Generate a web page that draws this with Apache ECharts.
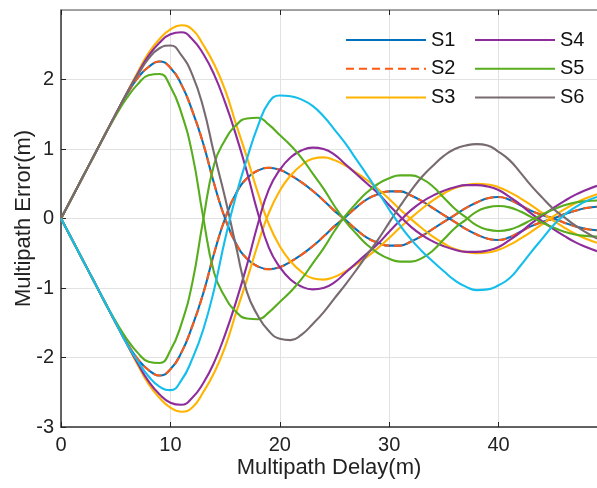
<!DOCTYPE html>
<html>
<head>
<meta charset="utf-8">
<script src="https://cdn.jsdelivr.net/npm/echarts@6/dist/echarts.min.js"></script>
<style>html,body{margin:0;padding:0;background:#fff;}#c{width:597px;height:488px;}</style>
</head>
<body>
<div id="c"></div>
<script>
// Multipath delay (m)
const xs = [0,1,2,3,4,5,6,7,8,9,10,11,12,13,14,15,16,17,18,19,20,21,22,23,24,25,26,27,28,29,30,31,32,33,34,35,36,37,38,39,40,41,42,43,44,45,46,47,48,49];

// Upper (positive-first) envelopes
const s1Up = [0,0.3,0.6,0.9,1.2,1.5,1.78,2.02,2.18,2.26,2.17,1.93,1.55,1.08,0.5,0.0,-0.36,-0.58,-0.69,-0.73,-0.7,-0.62,-0.52,-0.4,-0.26,-0.11,0.02,0.16,0.28,0.35,0.39,0.39,0.33,0.25,0.15,0.05,-0.05,-0.15,-0.23,-0.29,-0.31,-0.27,-0.19,-0.11,-0.05,0.0,0.06,0.11,0.15,0.17];
const s2Up = [0,0.3,0.6,0.9,1.2,1.5,1.78,2.02,2.18,2.26,2.17,1.93,1.55,1.08,0.5,0.0,-0.36,-0.58,-0.69,-0.73,-0.7,-0.62,-0.52,-0.4,-0.26,-0.11,0.02,0.16,0.28,0.35,0.39,0.39,0.33,0.25,0.15,0.05,-0.05,-0.15,-0.23,-0.29,-0.31,-0.27,-0.19,-0.11,-0.05,0.0,0.06,0.11,0.15,0.17];
const s3Up = [0,0.3,0.6,0.9,1.2,1.5,1.8,2.1,2.38,2.58,2.72,2.78,2.72,2.5,2.22,1.85,1.36,0.88,0.37,-0.08,-0.4,-0.62,-0.77,-0.86,-0.88,-0.84,-0.76,-0.66,-0.55,-0.42,-0.28,-0.13,0.01,0.14,0.26,0.36,0.44,0.48,0.5,0.49,0.45,0.38,0.29,0.19,0.08,-0.03,-0.13,-0.22,-0.29,-0.35];
const s4Up = [0,0.3,0.6,0.9,1.2,1.5,1.8,2.08,2.34,2.53,2.65,2.68,2.58,2.37,2.07,1.67,1.2,0.67,0.08,-0.42,-0.7,-0.88,-0.98,-1.02,-1.0,-0.92,-0.78,-0.64,-0.5,-0.36,-0.19,-0.03,0.12,0.24,0.33,0.4,0.45,0.48,0.48,0.46,0.41,0.31,0.2,0.07,-0.04,-0.15,-0.25,-0.34,-0.41,-0.47];
const s5Up = [0,0.3,0.6,0.9,1.2,1.48,1.73,1.93,2.06,2.08,1.9,1.52,0.93,0.02,-0.78,-1.13,-1.34,-1.44,-1.45,-1.35,-1.2,-1.05,-0.87,-0.65,-0.43,-0.18,0.04,0.22,0.38,0.5,0.58,0.62,0.62,0.57,0.46,0.3,0.14,0.02,-0.1,-0.16,-0.18,-0.16,-0.1,-0.02,0.06,0.13,0.19,0.23,0.25,0.26];
const s6Up = [0,0.3,0.6,0.9,1.2,1.5,1.8,2.06,2.3,2.45,2.49,2.35,2.07,1.6,0.93,0.3,-0.4,-1.06,-1.4,-1.62,-1.73,-1.75,-1.67,-1.52,-1.35,-1.15,-0.95,-0.74,-0.52,-0.3,-0.06,0.18,0.4,0.6,0.76,0.9,1.0,1.05,1.07,1.05,0.96,0.84,0.66,0.47,0.3,0.14,0.02,-0.1,-0.2,-0.29];

// Lower (negative-first) envelopes
const s1Low = [0,-0.3,-0.6,-0.9,-1.2,-1.5,-1.78,-2.02,-2.18,-2.26,-2.17,-1.93,-1.55,-1.08,-0.5,0.0,0.36,0.58,0.69,0.73,0.7,0.62,0.52,0.4,0.26,0.11,-0.02,-0.16,-0.28,-0.35,-0.39,-0.39,-0.33,-0.25,-0.15,-0.05,0.05,0.15,0.23,0.29,0.31,0.27,0.19,0.11,0.05,0.0,-0.06,-0.11,-0.15,-0.17];
const s2Low = [0,-0.3,-0.6,-0.9,-1.2,-1.5,-1.78,-2.02,-2.18,-2.26,-2.17,-1.93,-1.55,-1.08,-0.5,0.0,0.36,0.58,0.69,0.73,0.7,0.62,0.52,0.4,0.26,0.11,-0.02,-0.16,-0.28,-0.35,-0.39,-0.39,-0.33,-0.25,-0.15,-0.05,0.05,0.15,0.23,0.29,0.31,0.27,0.19,0.11,0.05,0.0,-0.06,-0.11,-0.15,-0.17];
const s3Low = [0,-0.3,-0.6,-0.9,-1.2,-1.5,-1.8,-2.1,-2.38,-2.58,-2.72,-2.78,-2.72,-2.5,-2.22,-1.85,-1.36,-0.88,-0.37,0.08,0.4,0.62,0.77,0.86,0.88,0.84,0.76,0.66,0.55,0.42,0.28,0.13,-0.01,-0.14,-0.26,-0.36,-0.44,-0.48,-0.5,-0.49,-0.45,-0.38,-0.29,-0.19,-0.08,0.03,0.13,0.22,0.29,0.35];
const s4Low = [0,-0.3,-0.6,-0.9,-1.2,-1.5,-1.8,-2.08,-2.34,-2.53,-2.65,-2.68,-2.58,-2.37,-2.07,-1.67,-1.2,-0.67,-0.08,0.42,0.7,0.88,0.98,1.02,1.0,0.92,0.78,0.64,0.5,0.36,0.19,0.03,-0.12,-0.24,-0.33,-0.4,-0.45,-0.48,-0.48,-0.46,-0.41,-0.31,-0.2,-0.07,0.04,0.15,0.25,0.34,0.41,0.47];
const s5Low = [0,-0.3,-0.6,-0.9,-1.2,-1.48,-1.73,-1.93,-2.06,-2.08,-1.9,-1.52,-0.93,-0.02,0.78,1.13,1.34,1.44,1.45,1.35,1.2,1.05,0.87,0.65,0.43,0.18,-0.04,-0.22,-0.38,-0.5,-0.58,-0.62,-0.62,-0.57,-0.46,-0.3,-0.14,-0.02,0.1,0.16,0.18,0.16,0.1,0.02,-0.06,-0.13,-0.19,-0.23,-0.25,-0.26];
const s6Low = [0,-0.3,-0.6,-0.9,-1.2,-1.5,-1.8,-2.05,-2.27,-2.42,-2.47,-2.33,-2.02,-1.6,-1.02,-0.3,0.33,0.86,1.33,1.67,1.77,1.76,1.71,1.62,1.47,1.28,1.08,0.85,0.62,0.38,0.13,-0.1,-0.3,-0.47,-0.62,-0.76,-0.89,-0.98,-1.03,-1.02,-0.96,-0.86,-0.68,-0.48,-0.29,-0.1,0.05,0.16,0.25,0.31];

const xTicks = [0,10,20,30,40];
const yTicks = [-3,-2,-1,0,1,2];

const names = ['S1','S2','S3','S4','S5','S6'];
const colors = ['#0072BD','#FF5A14','#FFB400','#8E2C9C','#58AD1E','#776A70'];
const lowColor6 = '#14BEEC';
const ups = [s1Up,s2Up,s3Up,s4Up,s5Up,s6Up];
const lows = [s1Low,s2Low,s3Low,s4Low,s5Low,s6Low];

const pair = arr => xs.map((x,i)=>[x,arr[i]]);
const FONT = '"Liberation Sans", Arial, sans-serif';
const series = [];
for (let k=0;k<6;k++){
  const ls = {width:2.1, color: colors[k], type: k===1 ? [8,5] : 'solid'};
  series.push({name:names[k], type:'line', data:pair(ups[k]), symbol:'none', smooth:0.5,
    lineStyle:ls, itemStyle:{color:colors[k]}, z:2+k});
  const lc = k===5 ? lowColor6 : colors[k];
  series.push({name: k===5 ? 'S6b' : names[k], type:'line', data:pair(lows[k]), symbol:'none', smooth:0.5,
    lineStyle:Object.assign({}, ls, {color:lc}), itemStyle:{color:lc}, z:2+k});
}

const chart = echarts.init(document.getElementById('c'), null, {renderer:'canvas'});
const legendCommon = {orient:'vertical', itemWidth:80, itemHeight:20, itemGap:8.7,
  itemStyle:{opacity:0},
  textStyle:{fontSize:20, fontFamily:FONT, color:'#111'}, selectedMode:false};
chart.setOption({
  animation:false,
  backgroundColor:'#fff',
  grid:{left:61, right:0, top:10, bottom:61, containLabel:false, outerBoundsMode:'none'},
  legend:[
    Object.assign({}, legendCommon, {left:340, top:25, data:['S1','S2','S3']}),
    Object.assign({}, legendCommon, {left:469, top:25, data:['S4','S5','S6']})
  ],
  xAxis:[{
    type:'value', min:0, max:49, interval:10,
    name:'Multipath Delay(m)', nameLocation:'middle', nameGap:30, nameMoveOverlap:false,
    nameTextStyle:{fontSize:22, fontFamily:FONT, color:'#222'},
    axisLine:{show:true, onZero:false, lineStyle:{color:'#333', width:1.5}},
    axisTick:{show:true, inside:true, length:5, lineStyle:{color:'#222'}},
    axisLabel:{fontSize:20, fontFamily:FONT, color:'#222', margin:8,
      formatter: v => xTicks.includes(v) ? String(v) : ''},
    splitLine:{show:true, lineStyle:{color:'#e2e2e2', width:1}}
  },{
    type:'value', min:0, max:49, interval:10, position:'top',
    axisLine:{show:true, onZero:false, lineStyle:{color:'#888', width:1.5}},
    axisTick:{show:true, inside:true, length:5, lineStyle:{color:'#222'}},
    axisLabel:{show:false}, splitLine:{show:false}
  }],
  yAxis:[{
    type:'value', min:-3, max:3, interval:1,
    name:'Multipath Error(m)', nameLocation:'middle', nameGap:26, nameMoveOverlap:false,
    nameTextStyle:{fontSize:22, fontFamily:FONT, color:'#222'},
    axisLine:{show:true, onZero:false, lineStyle:{color:'#333', width:1.5}},
    axisTick:{show:true, inside:true, length:5, lineStyle:{color:'#222'}},
    axisLabel:{fontSize:20, fontFamily:FONT, color:'#222', margin:7, showMaxLabel:false,
      formatter: v => yTicks.includes(v) ? String(v) : ''},
    splitLine:{show:true, lineStyle:{color:'#e2e2e2', width:1}}
  }],
  series: series
});
</script>
</body>
</html>
